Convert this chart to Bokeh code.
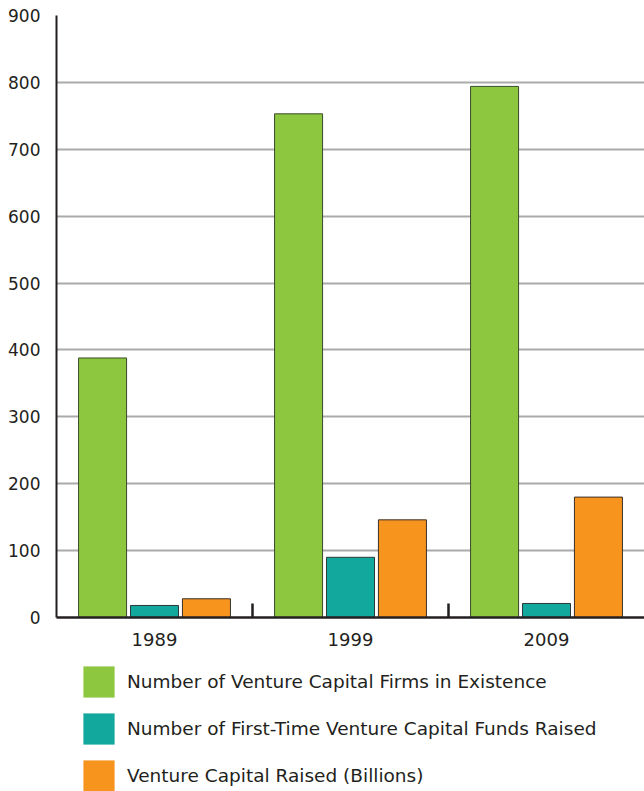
from bokeh.plotting import figure
from bokeh.models import FixedTicker, Legend, LegendItem, Range1d
from bokeh.layouts import column
from bokeh.transform import dodge
from bokeh.embed import file_html
from bokeh.resources import INLINE
import numpy as np

years = ["1989", "1999", "2009"]
firms = [388, 753, 794]
first_time = [18, 90, 21]
raised = [28, 146, 180]
y_ticks = [0, 100, 200, 300, 400, 500, 600, 700, 800, 900]

labels = ["Number of Venture Capital Firms in Existence",
          "Number of First-Time Venture Capital Funds Raised",
          "Venture Capital Raised (Billions)"]
series = ["firms", "first_time", "raised"]
colors = ["#8dc63f", "#12a89d", "#f7941e"]
outlines = ["#3b4a2a", "#2a3a38", "#3a3028"]

FONT = "DejaVu Sans"
TXT = "#231f20"

x = np.arange(len(years)) + 0.5
data = dict(x=x, firms=firms, first_time=first_time, raised=raised)

p = figure(width=644, height=650, output_backend="svg", toolbar_location=None,
           x_range=Range1d(0, len(years)), y_range=Range1d(0, 900),
           min_border_left=56, min_border_right=0, min_border_top=15,
           min_border_bottom=33)
p.outline_line_color = None
p.xgrid.grid_line_color = None
p.ygrid.grid_line_color = "#aaaaaa"
p.ygrid.grid_line_width = 2

bw = 0.245
off = 0.265
offsets = [-off, 0, off]
for col, dx, c, lc in zip(series, offsets, colors, outlines):
    p.vbar(x=dodge("x", dx), top=col, width=bw, source=data,
           fill_color=c, line_color=lc, line_width=1)

# y axis
p.yaxis.ticker = FixedTicker(ticks=y_ticks)
p.yaxis.axis_line_color = TXT
p.yaxis.axis_line_width = 2
p.yaxis.major_tick_line_color = None
p.yaxis.minor_tick_line_color = None
p.yaxis.major_label_standoff = 10
p.yaxis.major_label_text_font = FONT
p.yaxis.major_label_text_font_size = "17px"
p.yaxis.major_label_text_color = TXT

# x axis: labels at group centres, separators as minor ticks
p.xaxis.ticker = FixedTicker(ticks=list(x), minor_ticks=list(range(1, len(years))))
p.xaxis.major_label_overrides = {float(v): y for v, y in zip(x, years)}
p.xaxis.axis_line_color = TXT
p.xaxis.axis_line_width = 2.5
p.xaxis.major_tick_line_color = None
p.xaxis.minor_tick_in = 14
p.xaxis.minor_tick_out = 0
p.xaxis.minor_tick_line_color = TXT
p.xaxis.minor_tick_line_width = 2.5
p.xaxis.major_label_standoff = 9
p.xaxis.major_label_text_font = FONT
p.xaxis.major_label_text_font_size = "18px"
p.xaxis.major_label_text_color = TXT

# legend panel
pl = figure(width=644, height=141, output_backend="svg", toolbar_location=None,
            x_axis_location=None, y_axis_location=None,
            min_border_left=0, min_border_right=0, min_border_top=0,
            min_border_bottom=0, x_range=Range1d(0, 1), y_range=Range1d(0, 1))
pl.outline_line_color = None
pl.grid.grid_line_color = None
items = []
for lab, col, dx, c in zip(labels, series, offsets, colors):
    r = pl.vbar(x=dodge("x", dx), top=col, width=bw, source=data,
                fill_color=c, line_color=None, visible=False)
    items.append(LegendItem(label=lab, renderers=[r]))
legend = Legend(items=items, location=(23, -4), orientation="vertical",
                glyph_width=39, glyph_height=39, spacing=8,
                label_standoff=9, padding=0, margin=0,
                border_line_color=None, background_fill_alpha=0,
                label_text_font=FONT, label_text_font_size="18.5px",
                label_text_color=TXT, label_height=39)
pl.add_layout(legend, "center")

layout = column(p, pl, spacing=0)
open("out.html", "w").write(file_html(layout, INLINE))
